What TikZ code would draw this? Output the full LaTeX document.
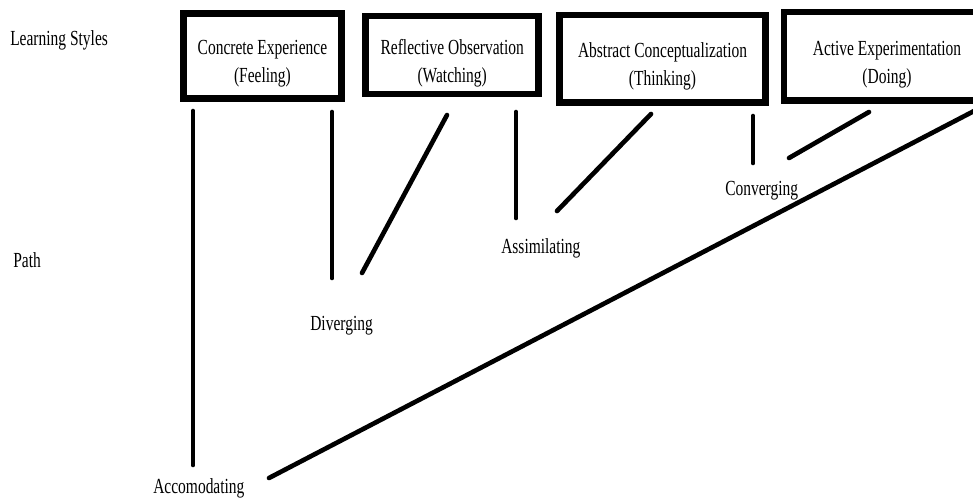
\documentclass[tikz,border=0pt]{standalone}
\usepackage{fontspec}
\setmainfont{Liberation Serif}[FakeStretch=0.72]

\tikzset{
  lsbox/.style={draw, line width=4.6pt, align=center, inner sep=0pt, text height=15mm, text depth=1.5mm},
  link/.style={line width=3.3pt, line cap=round},
  tag/.style={anchor=base west, inner sep=0pt}
}

\begin{document}
\begin{tikzpicture}[x=0.25mm, y=-0.25mm, font=\fontsize{15.3}{19.9}\selectfont]

        \clip (0,0) rectangle (973,497);

        % the four styles
        \node[lsbox, minimum width=39.5mm, minimum height=21.25mm] (ce) at (262.4,55.9) {Concrete Experience\\(Feeling)};
        \node[lsbox, minimum width=43.25mm, minimum height=19.5mm] (ro) at (452.2,55) {Reflective Observation\\(Watching)};
        \node[lsbox, minimum width=51.6mm, minimum height=21.9mm] (ac) at (662.5,58.8) {Abstract Conceptualization\\(Thinking)};
        \node[lsbox, minimum width=51.5mm, minimum height=22.1mm] (ae) at (887,56.2) {Active Experimentation\\(Doing)};

        \node[tag] (ls) at (10,45) {Learning Styles};
        \node[tag] (path) at (13,267) {Path};

        \node[tag] (div) at (310,330) {Diverging};
        \node[tag] (assim) at (501,253) {Assimilating};
        \node[tag] (conv) at (725,195) {Converging};
        \node[tag] (acc) at (153,493) {Accomodating};

        % line ends
        \coordinate (a1) at (193,111);  \coordinate (a2) at (193,465);
        \coordinate (b1) at (332,112);  \coordinate (b2) at (332,278);
        \coordinate (c1) at (447,115);  \coordinate (c2) at (362,273);
        \coordinate (d1) at (516,112);  \coordinate (d2) at (516,218);
        \coordinate (e1) at (651,114);  \coordinate (e2) at (557,211);
        \coordinate (f1) at (753,116);  \coordinate (f2) at (753,163);
        \coordinate (g1) at (869,112);  \coordinate (g2) at (789,158);
        \coordinate (h1) at (976,110);  \coordinate (h2) at (269,478);

        \draw[link] (a1) -- (a2);
        \draw[link] (b1) -- (b2);
        \draw[link] (c1) -- (c2);
        \draw[link] (d1) -- (d2);
        \draw[link] (e1) -- (e2);
        \draw[link] (f1) -- (f2);
        \draw[link] (g1) -- (g2);
        \draw[link] (h1) -- (h2);

\end{tikzpicture}
\end{document}
